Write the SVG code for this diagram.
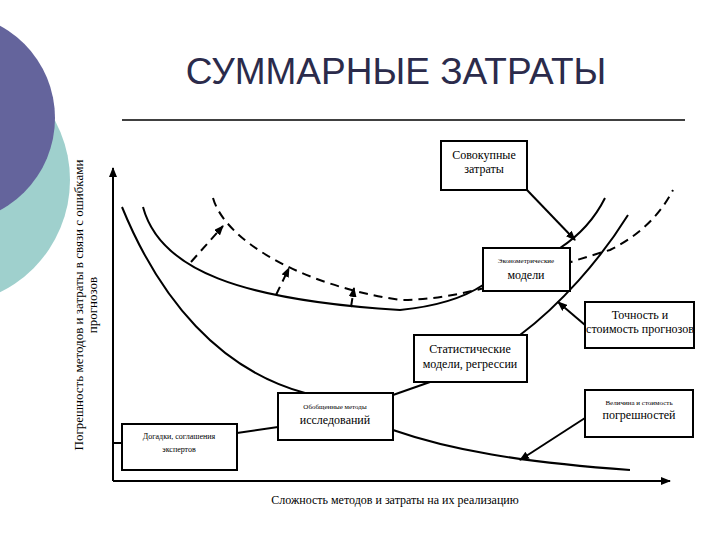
<svg xmlns="http://www.w3.org/2000/svg" width="720" height="540" viewBox="0 0 720 540">
<defs>
<marker id="ah" markerWidth="10" markerHeight="8" refX="9" refY="4" orient="auto" markerUnits="userSpaceOnUse"><path d="M0,0 L10,4 L0,8 z" fill="#000"/></marker>
<style>
.b{fill:#fff;stroke:#000;stroke-width:2}
.c{fill:none;stroke:#000;stroke-width:2}
.d{fill:none;stroke:#000;stroke-width:2;stroke-dasharray:9,6}
.t{fill:#000;text-anchor:middle}
</style>
</defs>
<circle cx="-55" cy="180" r="125" fill="#9fd0cd"/>
<circle cx="-50" cy="118" r="105" fill="#64649c"/>
<text x="396" y="84" font-family="Liberation Sans, sans-serif" font-size="37" fill="#2b2b4b" text-anchor="middle">СУММАРНЫЕ ЗАТРАТЫ</text>
<line x1="122" y1="120" x2="685" y2="120" stroke="#000" stroke-width="1.5"/>
<g id="axes">
<line class="c" x1="113" y1="481" x2="113" y2="168" marker-end="url(#ah)"/>
<line class="c" x1="113" y1="481" x2="670" y2="481" marker-end="url(#ah)"/>
</g>
<g font-family="Liberation Serif, serif">
<text class="t" font-size="13" transform="translate(83,305) rotate(-90)">Погрешность методов и затраты в связи с ошибками</text>
<text class="t" font-size="13" transform="translate(97,305) rotate(-90)">прогнозов</text>
<text class="t" font-size="12" x="395" y="504">Сложность методов и затраты на их реализацию</text>
</g>
<g id="connectors">
<path class="c" d="M122,207 C160,300 220,370 305,393"/>
<path class="c" d="M393,430 C450,450 520,462 630,470"/>
<path class="c" d="M143,207 C160,270 240,300 400,310 C440,306 465,297 483,285"/>
<path class="c" d="M560,248 C580,235 595,218 605,198"/>
<path class="d" d="M213,198 C225,240 300,285 400,300 C470,300 540,270 610,250 C640,235 660,215 673,190"/>
<path class="c" d="M113,443 L122,443"/>
<path class="c" d="M237,433 L278,427"/>
<path class="c" d="M393,395 L430,382"/>
<path class="c" d="M520,335 C560,305 600,260 628,215"/>
<line class="c" x1="527" y1="190" x2="575" y2="240" marker-end="url(#ah)"/>
<line class="c" x1="585" y1="325" x2="558" y2="302" marker-end="url(#ah)"/>
<line class="c" x1="585" y1="418" x2="520" y2="460" marker-end="url(#ah)"/>
<line class="d" x1="191" y1="262" x2="223" y2="226" marker-end="url(#ah)"/>
<line class="d" x1="276" y1="295" x2="289" y2="268" marker-end="url(#ah)"/>
<line class="d" x1="351" y1="307" x2="354" y2="288" marker-end="url(#ah)"/>
</g>
<g font-family="Liberation Serif, serif">
<g id="n1"><rect class="b" x="441" y="141" width="86" height="49"/><text class="t" font-size="12" x="484" y="159">Совокупные</text><text class="t" font-size="12" x="484" y="173">затраты</text></g>
<g id="n2"><rect class="b" x="483" y="248" width="87" height="43"/><text class="t" font-size="7" x="526" y="263">Эконометрические</text><text class="t" font-size="12" x="526" y="279">модели</text></g>
<g id="n3"><rect class="b" x="585" y="302" width="109" height="46"/><text class="t" font-size="12" x="640" y="319">Точность и</text><text class="t" font-size="12" x="640" y="333">стоимость прогнозов</text></g>
<g id="n4"><rect class="b" x="414" y="335" width="113" height="47"/><text class="t" font-size="12" x="470" y="353">Статистические</text><text class="t" font-size="12" x="470" y="368">модели, регрессии</text></g>
<g id="n5"><rect class="b" x="585" y="390" width="108" height="47"/><text class="t" font-size="7" x="639" y="405">Величина и стоимость</text><text class="t" font-size="12" x="639" y="419">погрешностей</text></g>
<g id="n6"><rect class="b" x="278" y="393" width="115" height="47"/><text class="t" font-size="7" x="335" y="409">Обобщенные методы</text><text class="t" font-size="12" x="335" y="424">исследований</text></g>
<g id="n7"><rect class="b" x="122" y="424" width="115" height="46"/><text class="t" font-size="8" x="179" y="439">Догадки, соглашения</text><text class="t" font-size="8" x="179" y="452">экспертов</text></g>
</g>
</svg>
